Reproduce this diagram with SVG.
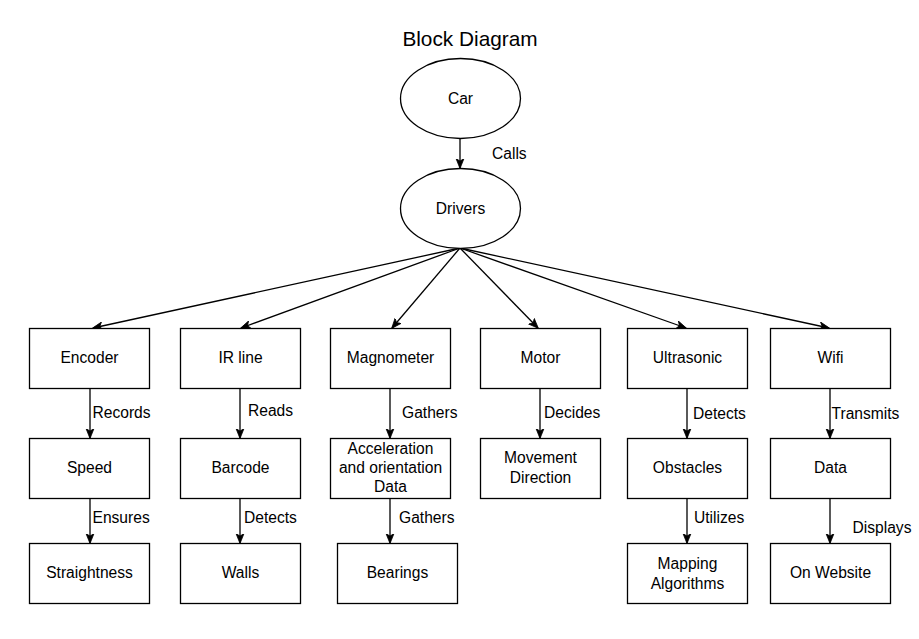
<svg xmlns="http://www.w3.org/2000/svg" width="919" height="639" viewBox="0 0 919 639">
<style>
text{font-family:"Liberation Sans",Arial,Helvetica,sans-serif;font-size:15.6px;fill:#000;dominant-baseline:central}
.n{text-anchor:middle}
.t{font-size:20.8px;text-anchor:middle}
.box{fill:#fff;stroke:#000;stroke-width:1.3}
.e{fill:#fff;stroke:#000;stroke-width:1.3}
.c{stroke:#000;stroke-width:1.3;fill:none;marker-end:url(#a)}
</style>
<defs>
<marker id="a" viewBox="0 0 10 10" refX="9.5" refY="5" markerWidth="10" markerHeight="10" markerUnits="userSpaceOnUse" orient="auto">
<path d="M0,1 L10,5 L0,9 L2.6,5 Z" fill="#000" stroke="#000" stroke-width="0.8"/>
</marker>
</defs>
<rect width="919" height="639" fill="#fff"/>
<text class="t" x="470" y="38">Block Diagram</text>
<g id="connectors">
<line class="c" x1="460" y1="138" x2="460" y2="168"/>
<line class="c" x1="460" y1="248" x2="93" y2="328"/>
<line class="c" x1="460" y1="248" x2="241" y2="328"/>
<line class="c" x1="460" y1="248" x2="392" y2="328"/>
<line class="c" x1="460" y1="248" x2="538" y2="328"/>
<line class="c" x1="460" y1="248" x2="686" y2="328"/>
<line class="c" x1="460" y1="248" x2="829" y2="328"/>
<line class="c" x1="90" y1="388" x2="90" y2="438"/>
<line class="c" x1="90" y1="498" x2="90" y2="543"/>
<line class="c" x1="240" y1="388" x2="240" y2="438"/>
<line class="c" x1="240" y1="498" x2="240" y2="543"/>
<line class="c" x1="390" y1="388" x2="390" y2="438"/>
<line class="c" x1="390" y1="498" x2="390" y2="543"/>
<line class="c" x1="540" y1="388" x2="540" y2="438"/>
<line class="c" x1="687" y1="388" x2="687" y2="438"/>
<line class="c" x1="687" y1="498" x2="687" y2="543"/>
<line class="c" x1="830" y1="388" x2="830" y2="438"/>
<line class="c" x1="830" y1="498" x2="830" y2="543"/>
<text x="492" y="153">Calls</text>
<text x="92.5" y="412">Records</text>
<text x="92.5" y="517">Ensures</text>
<text x="248" y="410">Reads</text>
<text x="244" y="517">Detects</text>
<text x="402" y="412">Gathers</text>
<text x="399" y="517">Gathers</text>
<text x="544" y="412">Decides</text>
<text x="693" y="413">Detects</text>
<text x="694" y="517">Utilizes</text>
<text x="831.5" y="413">Transmits</text>
<text x="852.5" y="527">Displays</text>
</g>
<g id="car"><ellipse class="e" cx="460.5" cy="98.5" rx="60" ry="40"/><text class="n" x="460.5" y="98.5">Car</text></g>
<g id="drivers"><ellipse class="e" cx="460.5" cy="208.5" rx="60" ry="40"/><text class="n" x="460.5" y="208">Drivers</text></g>
<g id="encoder"><rect class="box" x="29.5" y="328.5" width="120" height="60"/><text class="n" x="89.5" y="357.5">Encoder</text></g>
<g id="irline"><rect class="box" x="180.5" y="328.5" width="120" height="60"/><text class="n" x="240.5" y="357.5">IR line</text></g>
<g id="magnometer"><rect class="box" x="330.5" y="328.5" width="120" height="60"/><text class="n" x="390.5" y="357.5">Magnometer</text></g>
<g id="motor"><rect class="box" x="480.5" y="328.5" width="120" height="60"/><text class="n" x="540.5" y="357.5">Motor</text></g>
<g id="ultrasonic"><rect class="box" x="627.5" y="328.5" width="120" height="60"/><text class="n" x="687.5" y="357.5">Ultrasonic</text></g>
<g id="wifi"><rect class="box" x="770.5" y="328.5" width="120" height="60"/><text class="n" x="830.5" y="357.5">Wifi</text></g>
<g id="speed"><rect class="box" x="29.5" y="438.5" width="120" height="60"/><text class="n" x="89.5" y="467.5">Speed</text></g>
<g id="barcode"><rect class="box" x="180.5" y="438.5" width="120" height="60"/><text class="n" x="240.5" y="467.5">Barcode</text></g>
<g id="accel"><rect class="box" x="330.5" y="438.5" width="120" height="60"/><text class="n" x="390.5" y="448.5">Acceleration</text><text class="n" x="390.5" y="467.5">and orientation</text><text class="n" x="390.5" y="486">Data</text></g>
<g id="movement"><rect class="box" x="480.5" y="438.5" width="120" height="60"/><text class="n" x="540.5" y="457">Movement</text><text class="n" x="540.5" y="477">Direction</text></g>
<g id="obstacles"><rect class="box" x="627.5" y="438.5" width="120" height="60"/><text class="n" x="687.5" y="467.5">Obstacles</text></g>
<g id="data"><rect class="box" x="770.5" y="438.5" width="120" height="60"/><text class="n" x="830.5" y="467.5">Data</text></g>
<g id="straightness"><rect class="box" x="29.5" y="543.5" width="120" height="60"/><text class="n" x="89.5" y="572.5">Straightness</text></g>
<g id="walls"><rect class="box" x="180.5" y="543.5" width="120" height="60"/><text class="n" x="240.5" y="572.5">Walls</text></g>
<g id="bearings"><rect class="box" x="337.5" y="543.5" width="120" height="60"/><text class="n" x="397.5" y="572.5">Bearings</text></g>
<g id="mapping"><rect class="box" x="627.5" y="543.5" width="120" height="60"/><text class="n" x="687.5" y="563">Mapping</text><text class="n" x="687.5" y="583">Algorithms</text></g>
<g id="website"><rect class="box" x="770.5" y="543.5" width="120" height="60"/><text class="n" x="830.5" y="572.5">On Website</text></g>
</svg>
